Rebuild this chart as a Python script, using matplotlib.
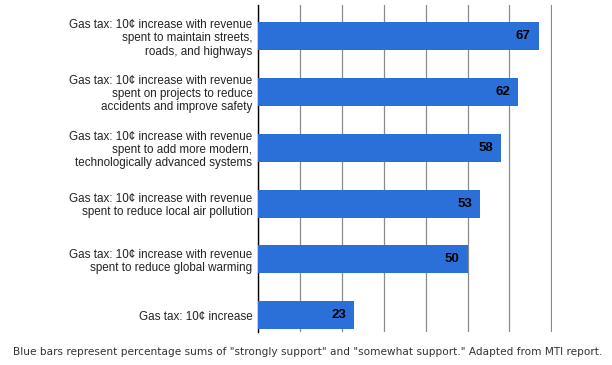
import matplotlib.pyplot as plt

# survey items, top to bottom
labels = [
    "Gas tax: 10\u00a2 increase with revenue\nspent to maintain streets,\nroads, and highways",
    "Gas tax: 10\u00a2 increase with revenue\nspent on projects to reduce\naccidents and improve safety",
    "Gas tax: 10\u00a2 increase with revenue\nspent to add more modern,\ntechnologically advanced systems",
    "Gas tax: 10\u00a2 increase with revenue\nspent to reduce local air pollution",
    "Gas tax: 10\u00a2 increase with revenue\nspent to reduce global warming",
    "Gas tax: 10\u00a2 increase",
]
support = [67, 62, 58, 53, 50, 23]
grid_ticks = [0, 10, 20, 30, 40, 50, 60, 70]

caption = ('Blue bars represent percentage sums of "strongly support" and '
           '"somewhat support." Adapted from MTI report.')

fig = plt.figure(figsize=(6.12, 3.65), dpi=100)
ax = fig.add_axes([258 / 612, 1 - 332 / 365, 294 / 612, 327 / 365])

pos = list(range(len(labels)))
ax.barh(pos, support, height=0.5, color="#2b6fd8", zorder=3)

for p, v in zip(pos, support):
    ax.text(v - 1.9, p, str(v), ha="right", va="center", fontsize=9.5,
            fontweight="bold", family="Liberation Sans", color="black", zorder=4)

ax.set_xlim(0, 70.15)
ax.set_ylim(5.30, -0.556)
ax.set_xticks(grid_ticks)
ax.xaxis.grid(True, color="#8a8a8a", linewidth=0.9, zorder=0)
ax.tick_params(axis="x", length=0, labelbottom=False)
ax.tick_params(axis="y", length=0, pad=4)
ax.set_yticks(pos)
ax.set_yticklabels(labels, fontsize=8.4, family="Liberation Sans", color="#222222",
                   linespacing=1.15)
for lab in ax.get_yticklabels():
    lab.set_horizontalalignment("right")
    lab.set_multialignment("right")

for s in ["top", "right", "bottom"]:
    ax.spines[s].set_visible(False)
ax.spines["left"].set_color("black")
ax.spines["left"].set_linewidth(1.0)

fig.text(13 / 612, 1 - 352 / 365, caption, fontsize=7.6, family="DejaVu Sans",
         color="#333333", va="center", ha="left")

fig.savefig("out.png", dpi=100)
